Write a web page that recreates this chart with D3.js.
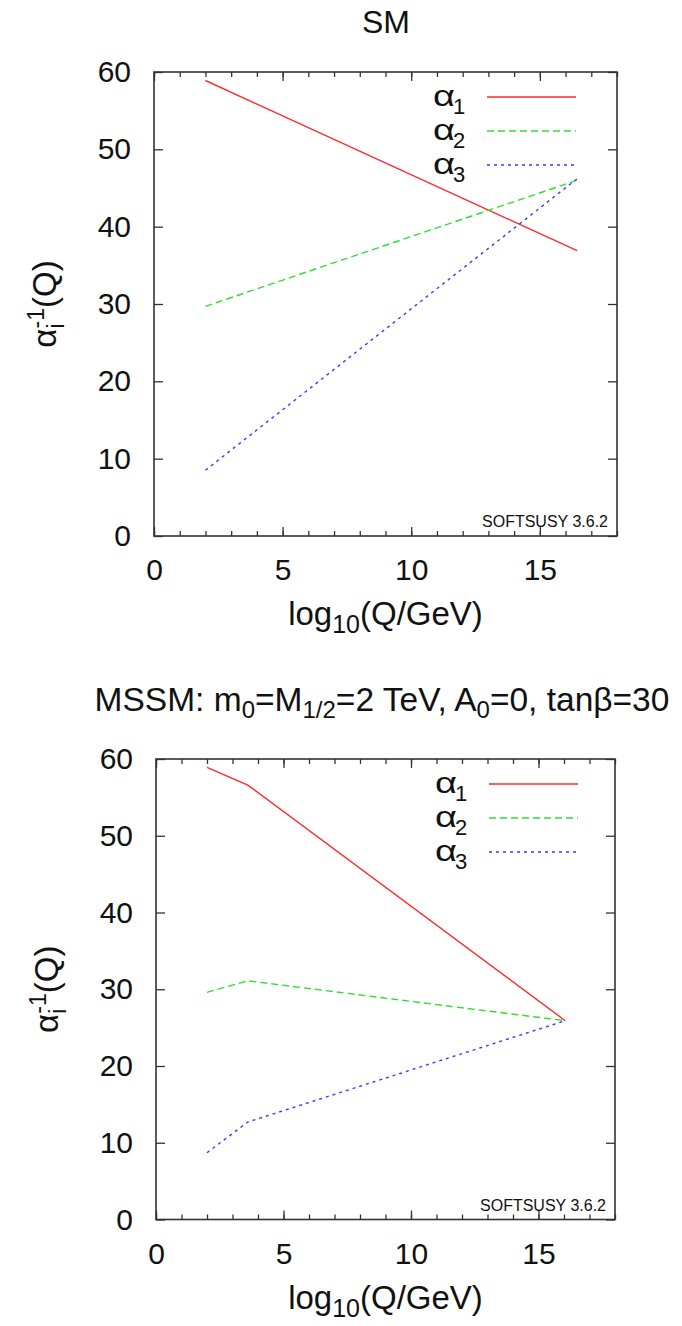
<!DOCTYPE html>
<html>
  <head>
    <script src="https://d3js.org/d3.v7.min.js"></script>
    <style>
      body { margin: 0; background: #fff; }
      text { font-family: "Liberation Sans", Arial, Helvetica, sans-serif; fill: #111; }
    </style>
  </head>
  <body>
    <script>

// ---- data ----
// top panel: Standard Model running
var smLogQ = [2.0, 16.45];
var smInvAlpha1 = [58.9, 36.9];
var smInvAlpha2 = [29.7, 46.0];
var smInvAlpha3 = [8.5, 46.2];

// bottom panel: MSSM running (kink at the SUSY scale)
var mssmLogQ = [2.0, 3.6, 16.05];
var mssmInvAlpha1 = [58.9, 56.6, 25.9];
var mssmInvAlpha2 = [29.6, 31.1, 25.9];
var mssmInvAlpha3 = [8.7, 12.7, 25.9];

var seriesLabels = ["1", "2", "3"];
var xTickLabels = [0, 5, 10, 15];
var yTickLabels = [0, 10, 20, 30, 40, 50, 60];

var w = 682, h = 1326;
var colors = ["#ff2a2a", "#2ee02e", "#3a3aff"];
var dashes = [null, "7,4", "3,4"];

var svg = d3.select("body")
  .append("svg")
  .attr("width", w)
  .attr("height", h);

function drawPanel(box, logQ, curves) {
  var x = d3.scaleLinear().domain([0, 18]).range([box.left, box.right]);
  var y = d3.scaleLinear().domain([0, 60]).range([box.bottom, box.top]);
  var g = svg.append("g").style("color", "#333");

  // minor + major ticks on all four sides (pointing inward)
  var minor = d3.range(0, 19);
  g.append("g").attr("transform", "translate(0," + box.bottom + ")")
    .call(d3.axisBottom(x).tickValues(minor).tickSize(-5).tickFormat(""));
  g.append("g").attr("transform", "translate(0," + box.top + ")")
    .call(d3.axisTop(x).tickValues(minor).tickSize(-5).tickFormat(""));
  g.append("g").attr("transform", "translate(0," + box.top + ")")
    .call(d3.axisTop(x).tickValues(xTickLabels).tickSize(-9).tickFormat(""));
  g.append("g").attr("transform", "translate(" + box.right + ",0)")
    .call(d3.axisRight(y).tickValues(yTickLabels).tickSize(-9).tickFormat(""));

  var xAxis = g.append("g").attr("transform", "translate(0," + box.bottom + ")")
    .call(d3.axisBottom(x).tickValues(xTickLabels).tickSize(-9).tickPadding(23));
  var yAxis = g.append("g").attr("transform", "translate(" + box.left + ",0)")
    .call(d3.axisLeft(y).tickValues(yTickLabels).tickSize(-9).tickPadding(23));

  g.selectAll(".domain").remove();
  g.selectAll(".tick line").attr("stroke-width", 1.3);
  [xAxis, yAxis].forEach(function(a) {
    a.attr("font-family", null).attr("font-size", null);
    a.selectAll("text").attr("font-size", "30px").attr("fill", "#111");
  });

  // frame
  g.append("rect")
    .attr("x", box.left).attr("y", box.top)
    .attr("width", box.right - box.left)
    .attr("height", box.bottom - box.top)
    .attr("fill", "none")
    .attr("stroke", "#333")
    .attr("stroke-width", 1.6);

  // curves
  var line = d3.line()
    .x(function(d) { return x(d[0]); })
    .y(function(d) { return y(d[1]); });
  curves.forEach(function(vals, i) {
    g.append("path")
      .datum(logQ.map(function(q, j) { return [q, vals[j]]; }))
      .attr("d", line)
      .attr("fill", "none")
      .attr("stroke", colors[i])
      .attr("stroke-width", 1.4)
      .attr("stroke-dasharray", dashes[i]);
  });

  // legend (alpha and its index as two texts so rows don't collide)
  seriesLabels.forEach(function(s, i) {
    var ly = box.top + 25 + i * 34;
    g.append("text")
      .attr("x", box.left + 279)
      .attr("y", ly + 9)
      .attr("font-size", "30px")
      .attr("textLength", 22)
      .attr("lengthAdjust", "spacingAndGlyphs")
      .text("α");
    g.append("text")
      .attr("x", box.left + 299)
      .attr("y", ly + 17)
      .attr("font-size", "22px")
      .text(s);
    g.append("line")
      .attr("x1", box.left + 333).attr("x2", box.left + 422)
      .attr("y1", ly).attr("y2", ly)
      .attr("stroke", colors[i])
      .attr("stroke-width", 1.4)
      .attr("stroke-dasharray", dashes[i]);
  });

  // version stamp
  g.append("text")
    .attr("x", box.right - 9)
    .attr("y", box.bottom - 9)
    .attr("text-anchor", "end")
    .attr("font-size", "16px")
    .text("SOFTSUSY 3.6.2");

  // x label
  var xl = g.append("text")
    .attr("x", (box.left + box.right) / 2)
    .attr("y", box.bottom + 89)
    .attr("text-anchor", "middle")
    .attr("font-size", "33px");
  xl.append("tspan").text("log");
  xl.append("tspan").attr("dy", 8).attr("font-size", "25px").text("10");
  xl.append("tspan").attr("dy", -8).text("(Q/GeV)");

  // y label
  var cy = (box.top + box.bottom) / 2;
  var yl = g.append("text")
    .attr("transform", "translate(" + (box.left - 98) + "," + cy + ") rotate(-90)")
    .attr("text-anchor", "middle")
    .attr("font-size", "33px");
  yl.append("tspan").text("α");
  yl.append("tspan").attr("dy", 8).attr("font-size", "23px").text("i");
  yl.append("tspan").attr("dy", -20).attr("dx", -5).attr("font-size", "23px").text("-1");
  yl.append("tspan").attr("dy", 12).text("(Q)");
}

drawPanel({left: 154, right: 617, top: 72, bottom: 536}, smLogQ,
  [smInvAlpha1, smInvAlpha2, smInvAlpha3]);
drawPanel({left: 156, right: 615, top: 759, bottom: 1219.5}, mssmLogQ,
  [mssmInvAlpha1, mssmInvAlpha2, mssmInvAlpha3]);

// titles
svg.append("text")
  .attr("x", 386).attr("y", 33)
  .attr("text-anchor", "middle")
  .attr("font-size", "32px")
  .text("SM");

var t2 = svg.append("text")
  .attr("x", 382).attr("y", 711)
  .attr("text-anchor", "middle")
  .attr("font-size", "33.5px");
t2.append("tspan").text("MSSM: m");
t2.append("tspan").attr("dy", 7).attr("font-size", "24px").text("0");
t2.append("tspan").attr("dy", -7).text("=M");
t2.append("tspan").attr("dy", 7).attr("font-size", "24px").text("1/2");
t2.append("tspan").attr("dy", -7).text("=2 TeV, A");
t2.append("tspan").attr("dy", 7).attr("font-size", "24px").text("0");
t2.append("tspan").attr("dy", -7).text("=0, tanβ=30");

    </script>
  </body>
</html>
